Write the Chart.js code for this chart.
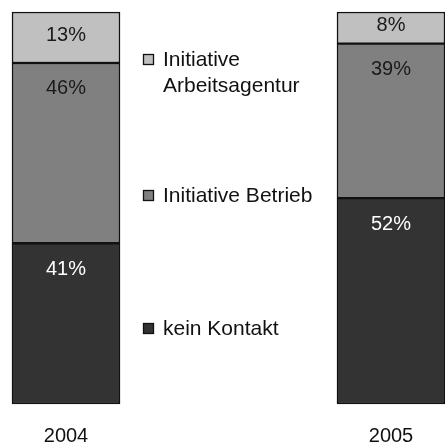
<!DOCTYPE html>
<html>
<head>
<meta charset="utf-8">
<script src="https://cdn.jsdelivr.net/npm/chart.js@4/dist/chart.umd.min.js"></script>
<style>
html,body{margin:0;padding:0;background:#fff;overflow:hidden;}
#wrap{width:445px;height:443px;position:relative;}
</style>
</head>
<body>
<div id="wrap"><canvas id="c" width="445" height="443"></canvas></div>
<script>
const categories = ['2004', '2005'];
const keinKontakt = [41, 52];
const initiativeBetrieb = [46, 39];
const initiativeArbeitsagentur = [13, 8];
const colors = ['#333333', '#808080', '#c0c0c0'];
const labelColors = ['#ffffff', '#1a1a1a', '#1a1a1a'];

const FONT = '"Liberation Sans", Arial, sans-serif';

// 100% stacked: each column is scaled to its own total
const totals = categories.map((c, j) => keinKontakt[j] + initiativeBetrieb[j] + initiativeArbeitsagentur[j]);
const share = arr => arr.map((v, j) => v / totals[j] * 100);

const datasets = [
  { label: 'kein Kontakt', raw: keinKontakt, data: share(keinKontakt), backgroundColor: colors[0] },
  { label: 'Initiative Betrieb', raw: initiativeBetrieb, data: share(initiativeBetrieb), backgroundColor: colors[1] },
  { label: 'Initiative Arbeitsagentur', raw: initiativeArbeitsagentur, data: share(initiativeArbeitsagentur), backgroundColor: colors[2] }
].map(d => Object.assign(d, { borderColor: '#111', borderWidth: 1.5, borderSkipped: false, barThickness: 108, clip: false }));

const valueLabels = {
  id: 'valueLabels',
  afterDatasetsDraw(chart) {
    const ctx = chart.ctx;
    ctx.save();
    ctx.font = '20px ' + FONT;
    ctx.textAlign = 'center';
    ctx.textBaseline = 'middle';
    chart.data.datasets.forEach((ds, i) => {
      chart.getDatasetMeta(i).data.forEach((bar, j) => {
        const top = Math.min(bar.y, bar.base), bottom = Math.max(bar.y, bar.base);
        const y = Math.min(top + 26, (top + bottom) / 2 - 2);
        ctx.fillStyle = labelColors[i];
        ctx.fillText(ds.raw[j] + '%', bar.x, y);
      });
    });
    ctx.restore();
  }
};

const legendPositions = [329, 196, 60];
const legendLines = [['kein Kontakt'], ['Initiative Betrieb'], ['Initiative', 'Arbeitsagentur']];
const sideLegend = {
  id: 'sideLegend',
  afterDraw(chart) {
    const ctx = chart.ctx;
    ctx.save();
    ctx.font = '21px ' + FONT;
    ctx.textAlign = 'left';
    ctx.textBaseline = 'middle';
    chart.data.datasets.forEach((ds, i) => {
      const y = legendPositions[i];
      ctx.fillStyle = ds.backgroundColor;
      ctx.fillRect(143.5, y - 5.5, 10, 10);
      ctx.strokeStyle = '#111';
      ctx.lineWidth = 1.3;
      ctx.strokeRect(143.5, y - 5.5, 10, 10);
      ctx.fillStyle = '#111';
      legendLines[i].forEach((t, k) => ctx.fillText(t, 163, y + k * 26));
    });
    ctx.restore();
  }
};

new Chart(document.getElementById('c'), {
  type: 'bar',
  data: { labels: categories, datasets },
  options: {
    responsive: false,
    animation: false,
    layout: { padding: { left: 66, right: 54, top: 12, bottom: -25 } },
    plugins: { legend: { display: false }, tooltip: { enabled: false } },
    scales: {
      x: {
        stacked: true,
        offset: false,
        grid: { display: false, drawTicks: false, offset: false },
        border: { display: false },
        ticks: { color: '#111', font: { size: 20, family: FONT, lineHeight: 0.8 }, padding: 24, maxRotation: 0, autoSkip: false }
      },
      y: { stacked: true, min: 0, max: 100, display: false }
    }
  },
  plugins: [valueLabels, sideLegend]
});
</script>
</body>
</html>
